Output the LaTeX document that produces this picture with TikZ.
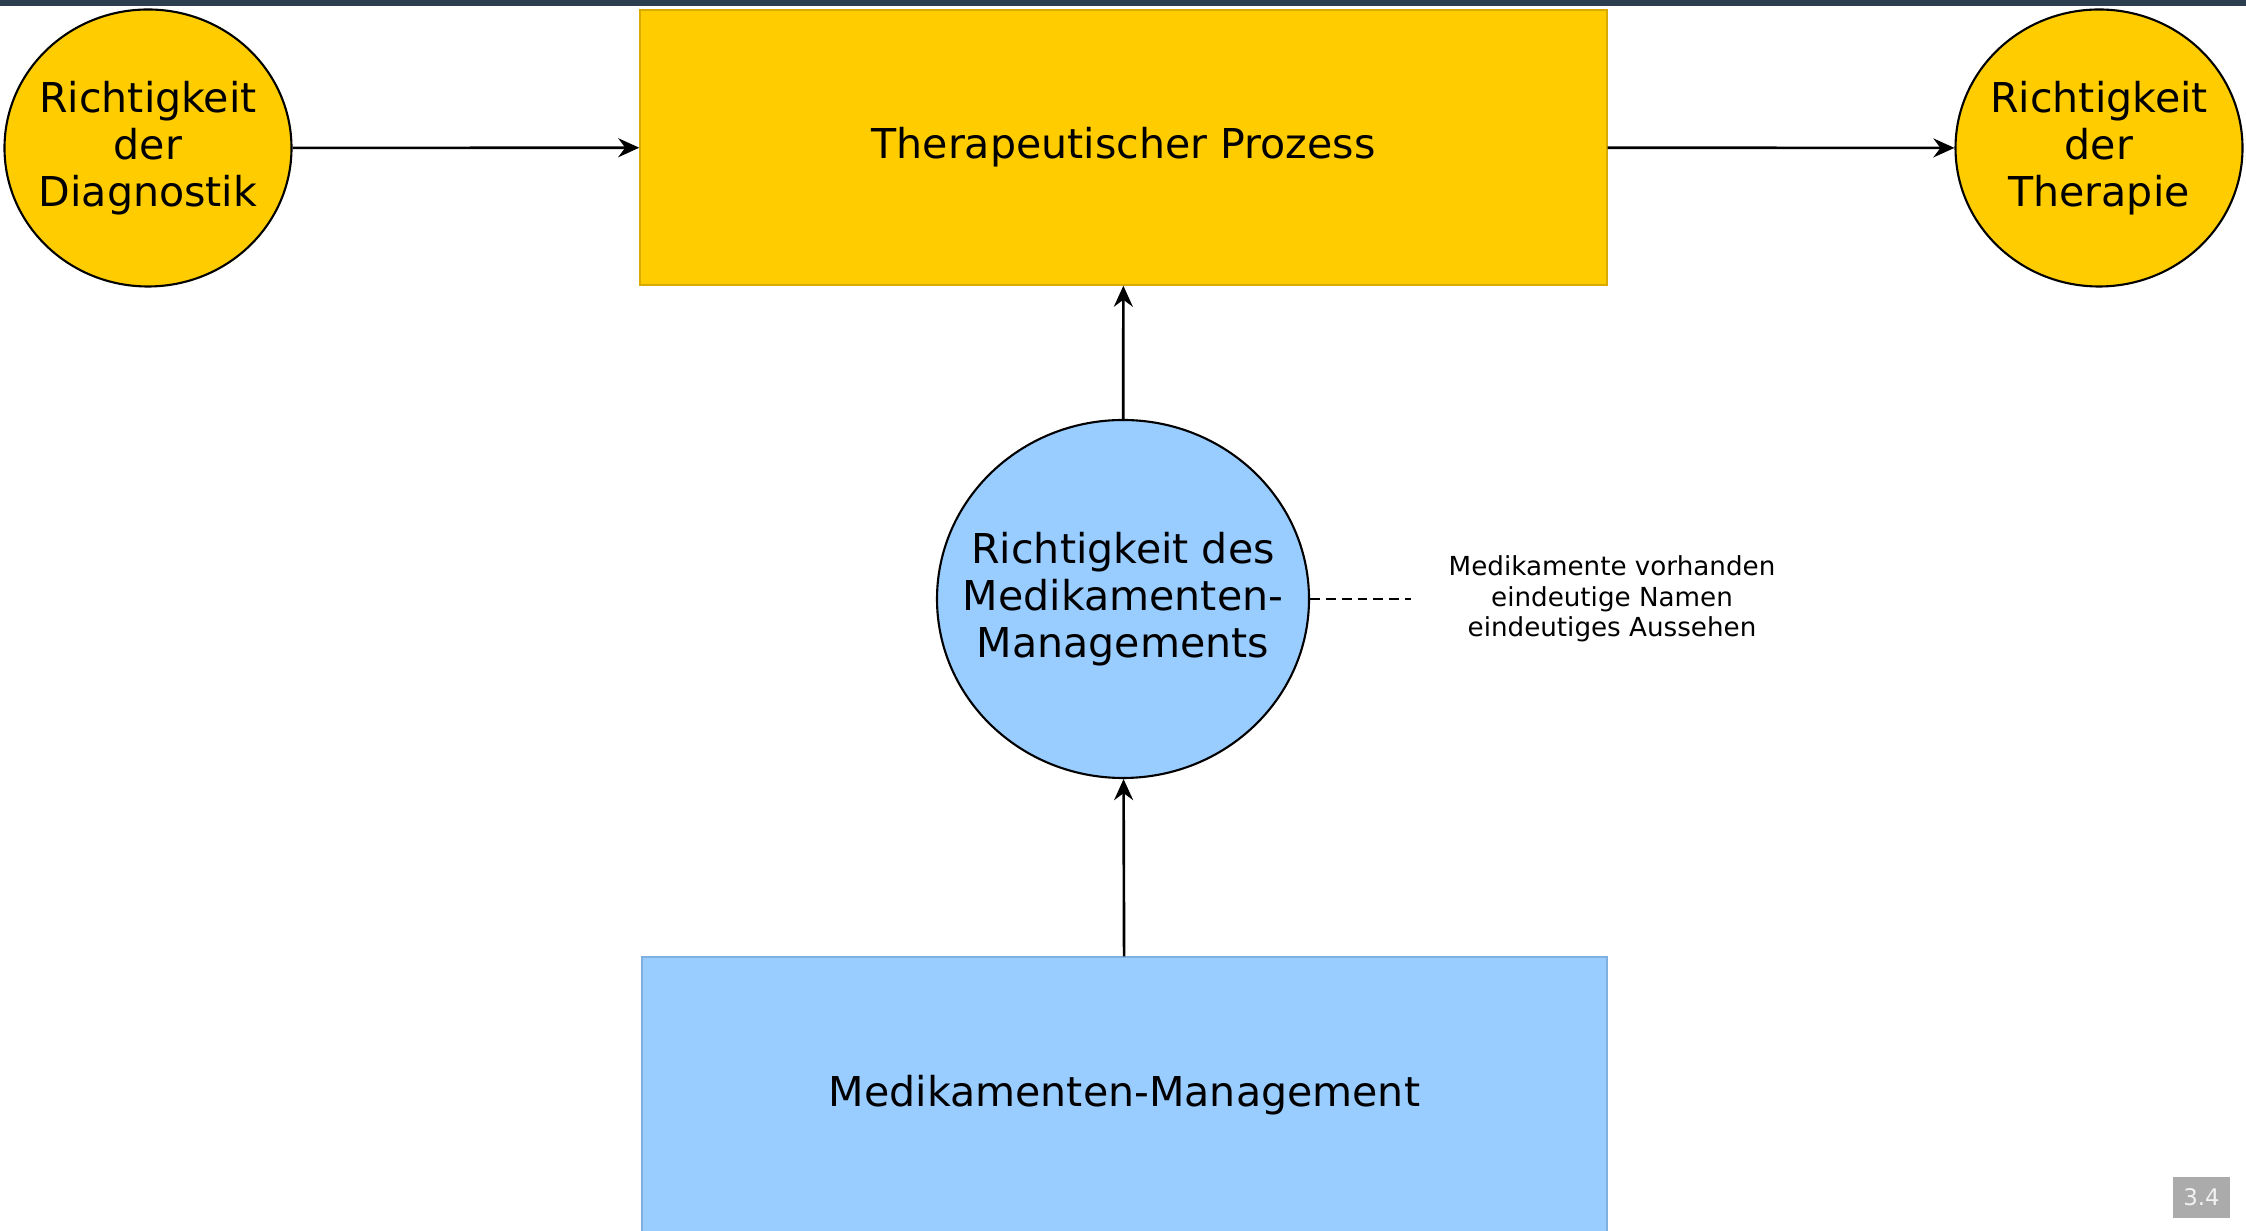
\documentclass[tikz,border=0pt]{standalone}
\usepackage{fontspec}
\setmainfont{DejaVu Sans}
\usetikzlibrary{shapes.geometric,arrows.meta}
\definecolor{gold}{HTML}{FFCC00}
\definecolor{golddark}{HTML}{D9AA00}
\definecolor{skyblue}{HTML}{99CCFF}
\definecolor{skybluedark}{HTML}{80B0E0}
\definecolor{topbar}{HTML}{2C3E50}
\definecolor{pagegray}{HTML}{ABABAB}
\begin{document}
\begin{tikzpicture}[
    bigfont/.style={font=\fontsize{11.7}{13.4}\selectfont},
    goal/.style={ellipse,draw=black,line width=0.6pt,fill=gold,bigfont,align=center,
      inner xsep=-4pt,inner ysep=0pt,minimum width=2.87cm,minimum height=2.77cm},
    procbox/.style={rectangle,fill=gold,draw=golddark,line width=0.4pt,bigfont,
      minimum width=9.67cm,minimum height=2.75cm},
    mgmtcircle/.style={ellipse,draw=black,line width=0.6pt,fill=skyblue,bigfont,align=center,
      inner xsep=-9pt,inner ysep=0pt,minimum width=3.72cm,minimum height=3.58cm},
    mgmtbox/.style={rectangle,fill=skyblue,draw=skybluedark,line width=0.4pt,bigfont,
      minimum width=9.65cm,minimum height=2.76cm},
    arr/.style={-{Stealth[length=6pt,width=5.4pt,inset=2pt]},line width=0.75pt},
  ]
    \useasboundingbox (0,0) rectangle (22.46,-12.31);
    %% Top bar
    \fill[topbar] (0,0) rectangle (22.46,-0.06);
    %% Upper row
    \node[goal] (diag) at (1.48,-1.48) {Richtigkeit\\der\\Diagnostik};
    \node[procbox] (proz) at (11.235,-1.475) {Therapeutischer Prozess};
    \node[goal] (ther) at (20.99,-1.48) {Richtigkeit\\der\\Therapie};
    %% Middle
    \node[mgmtcircle] (mmr) at (11.23,-5.99) {Richtigkeit des\\Medikamenten-\\Managements};
    \node[font=\fontsize{7.45}{8.6}\selectfont,align=center] (note) at (16.12,-5.99)
      {Medikamente vorhanden\\eindeutige Namen\\eindeutiges Aussehen};
    \coordinate (dashend) at (14.11,-5.99);
    %% Bottom
    \node[mgmtbox] (mm) at (11.245,-10.95) {Medikamenten-Management};
    %% Connectors
    \draw[arr] (diag) -- (proz);
    \draw[arr] (proz) -- (ther);
    \draw[arr] (mmr) -- (proz);
    \draw[arr] (mm) -- (mmr);
    \draw[line width=0.7pt,dash pattern=on 2.8pt off 1.7pt] (mmr.east) -- (dashend);
    %% Page number
    \node[fill=pagegray,text=white!90!gray,font=\fontsize{6.5}{7}\selectfont,
      minimum width=0.57cm,minimum height=0.41cm,inner sep=0pt] (page) at (22.015,-11.975) {3.4};
\end{tikzpicture}
\end{document}
